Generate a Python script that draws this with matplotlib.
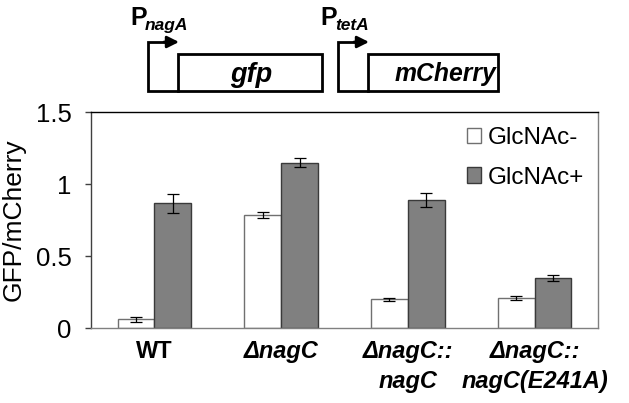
import matplotlib.pyplot as plt
import numpy as np
from matplotlib.patches import Rectangle

plt.rcParams["font.family"] = ["Liberation Sans", "DejaVu Sans"]

strains = ["WT", "ΔnagC", "ΔnagC::\nnagC", "ΔnagC::\nnagC(E241A)"]
glcnac_minus = [0.06, 0.785, 0.20, 0.21]
glcnac_minus_err = [0.018, 0.02, 0.01, 0.015]
glcnac_plus = [0.865, 1.148, 0.89, 0.348]
glcnac_plus_err = [0.068, 0.03, 0.05, 0.02]
yticks = [0, 0.5, 1, 1.5]
ytick_labels = ["0", "0.5", "1", "1.5"]

W, H = 629, 403
fig = plt.figure(figsize=(W / 100, H / 100), dpi=100)

# main bar chart
ax = fig.add_axes([91 / W, (H - 328) / H, 507 / W, 216 / H])
x = np.arange(len(strains))
bw = 0.29
ax.bar(x - bw / 2, glcnac_minus, bw, color="white", edgecolor="#707070",
       linewidth=1.0, label="GlcNAc-", zorder=2)
ax.bar(x + bw / 2, glcnac_plus, bw, color="#808080", edgecolor="#3a3a3a",
       linewidth=1.0, label="GlcNAc+", zorder=2)
ax.errorbar(x - bw / 2, glcnac_minus, yerr=glcnac_minus_err, fmt="none",
            ecolor="black", elinewidth=0.9, capsize=4, capthick=0.9, zorder=3)
ax.errorbar(x + bw / 2, glcnac_plus, yerr=glcnac_plus_err, fmt="none",
            ecolor="black", elinewidth=0.9, capsize=4, capthick=0.9, zorder=3)

ax.set_xlim(-0.5, len(strains) - 0.5)
ax.set_ylim(0, 1.5)
ax.set_yticks(yticks)
ax.set_yticklabels(ytick_labels, fontsize=18.5)
ax.tick_params(axis="y", length=4, width=1, color="#404040", pad=10)
ax.set_xticks(x)
ax.set_xticklabels([])
ax.tick_params(axis="x", length=0)
for i, s in enumerate(strains):
    style = "normal" if s == "WT" else "italic"
    ax.text(x[i], -0.085, s, ha="center", va="top", fontsize=17,
            fontweight="bold", style=style, linespacing=1.38,
            transform=ax.transData)
ax.set_ylabel("GFP/mCherry", fontsize=19, labelpad=7)

ax.spines["top"].set_color("black")
ax.spines["right"].set_color("#808080")
ax.spines["left"].set_color("#404040")
ax.spines["bottom"].set_color("#808080")
for sp in ax.spines.values():
    sp.set_linewidth(1.0)

ax.legend(loc="upper right", frameon=False, fontsize=17.5, handlelength=0.58,
          handleheight=0.58, handletextpad=0.25, labelspacing=0.72,
          borderpad=0, borderaxespad=0, bbox_to_anchor=(0.972, 0.93))

# construct schematic above the chart (pixel coordinates)
dx = fig.add_axes([0, 0, 1, 1], zorder=-1)
dx.set_xlim(0, W)
dx.set_ylim(H, 0)
dx.axis("off")

parts = [
    # promoter x, box left, box right, promoter name, gene, gene x, gene size
    (148, 178, 322, "nagA", "gfp", 251, 19.5),
    (338, 368, 498, "tetA", "mCherry", 445, 17.8),
]
box_top, box_bot, arrow_y = 54, 91, 42
for px, bx0, bx1, pname, gene, gx, gsize in parts:
    dx.add_patch(Rectangle((bx0, box_top), bx1 - bx0, box_bot - box_top,
                           fill=False, edgecolor="black", linewidth=2))
    dx.plot([bx0, px, px, bx0 - 12], [box_bot, box_bot, arrow_y, arrow_y],
            color="black", linewidth=2, solid_joinstyle="miter")
    dx.annotate("", xy=(bx0 + 1, arrow_y), xytext=(bx0 - 14, arrow_y),
                arrowprops=dict(arrowstyle="-|>,head_length=0.7,head_width=0.35",
                                color="black", lw=2, shrinkA=0, shrinkB=0))
    dx.text(gx, (box_top + box_bot) / 2 + 2, gene, ha="center",
            va="center", fontsize=gsize, fontweight="bold", style="italic")
    dx.text(px - 18, 25, "P", ha="left", va="baseline", fontsize=18,
            fontweight="bold")
    dx.text(px - 3, 30, pname, ha="left", va="baseline", fontsize=12.5,
            fontweight="bold", style="italic")

fig.savefig("out.png", dpi=100)
